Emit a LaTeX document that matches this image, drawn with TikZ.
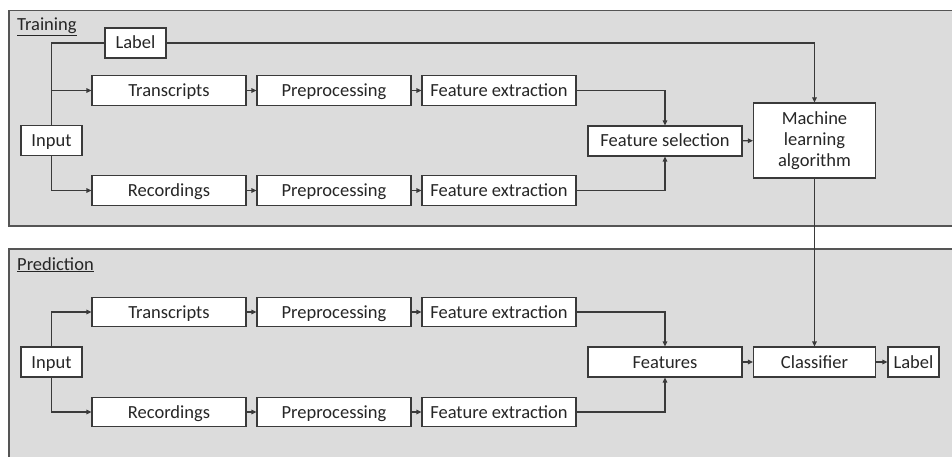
\documentclass[tikz,border=0pt]{standalone}
\usepackage{fontspec}
\setmainfont{Carlito}
\usetikzlibrary{arrows.meta}
\definecolor{panelfill}{HTML}{DCDCDC}
\definecolor{panelline}{HTML}{555555}
\definecolor{inkline}{HTML}{3A3A3A}
\tikzset{
  panel/.style={draw=panelline, fill=panelfill, line width=1.2pt},
  box/.style={draw=inkline, fill=white, line width=1.1pt, inner sep=0pt,
    font=\fontsize{18.5}{21}\selectfont, text=black!85, align=center},
  oneline/.style={box, text height=15pt, text depth=3pt},
  wide/.style={oneline, minimum width=154pt, minimum height=29.5pt},
  flow/.style={draw=inkline, line width=1.1pt, -{Triangle[length=5pt,width=4.5pt]}},
  link/.style={draw=inkline, line width=1.1pt},
  title/.style={font=\fontsize{18.5}{21}\selectfont, text=black!85, anchor=base west, inner sep=0pt}
}
\begin{document}
\begin{tikzpicture}[x=1pt, y=-1pt]
\useasboundingbox (0,0) rectangle (952,457);

% panels
\path[panel] (9,10.5) rectangle (962,226);
\path[panel] (9,249) rectangle (962,470);
\node[title] (ttrain) at (17,31) {\underline{Training}};
\node[title] (tpred) at (17,270) {\underline{Prediction}};

% training stage
\node[oneline, minimum width=61pt, minimum height=30pt] (labT) at (135.5,43) {Label};
\node[oneline, minimum width=61pt, minimum height=29.5pt] (inT) at (51.5,140.5) {Input};
\node[wide] (trT) at (169,90.5) {Transcripts};
\node[wide] (ppT1) at (334,90.5) {Preprocessing};
\node[wide] (feT1) at (499,90.5) {Feature extraction};
\node[wide] (rcT) at (169,190.5) {Recordings};
\node[wide] (ppT2) at (334,190.5) {Preprocessing};
\node[wide] (feT2) at (499,190.5) {Feature extraction};
\node[wide, minimum height=30pt] (fsel) at (665,141) {Feature selection};
\node[box, minimum width=122pt, minimum height=75pt] (ml) at (814.5,140.5) {Machine\\learning\\algorithm};

\draw[link] (inT.north) |- (labT.west);
\draw[flow] (inT.north) |- (trT.west);
\draw[flow] (inT.south) |- (rcT.west);
\draw[flow] (trT) -- (ppT1);
\draw[flow] (ppT1) -- (feT1);
\draw[flow] (rcT) -- (ppT2);
\draw[flow] (ppT2) -- (feT2);
\draw[flow] (feT1.east) -| (fsel.north);
\draw[flow] (feT2.east) -| (fsel.south);
\draw[flow] (fsel) -- (ml);
\draw[flow] (labT.east) -| (ml.north);

% prediction stage
\node[oneline, minimum width=61pt, minimum height=30pt] (inP) at (51.5,362) {Input};
\node[wide] (trP) at (169,312) {Transcripts};
\node[wide] (ppP1) at (334,312) {Preprocessing};
\node[wide] (feP1) at (499,312) {Feature extraction};
\node[wide] (rcP) at (169,412) {Recordings};
\node[wide] (ppP2) at (334,412) {Preprocessing};
\node[wide] (feP2) at (499,412) {Feature extraction};
\node[wide, minimum height=30pt] (feat) at (665,362) {Features};
\node[oneline, minimum width=122pt, minimum height=30pt] (clf) at (814.5,362) {Classifier};
\node[oneline, minimum width=51pt, minimum height=30pt] (labP) at (913.5,362) {Label};

\draw[flow] (inP.north) |- (trP.west);
\draw[flow] (inP.south) |- (rcP.west);
\draw[flow] (trP) -- (ppP1);
\draw[flow] (ppP1) -- (feP1);
\draw[flow] (rcP) -- (ppP2);
\draw[flow] (ppP2) -- (feP2);
\draw[flow] (feP1.east) -| (feat.north);
\draw[flow] (feP2.east) -| (feat.south);
\draw[flow] (feat) -- (clf);
\draw[flow] (clf) -- (labP);

% trained model feeds the classifier
\draw[flow] (ml.south) -- (clf.north);
\end{tikzpicture}
\end{document}
